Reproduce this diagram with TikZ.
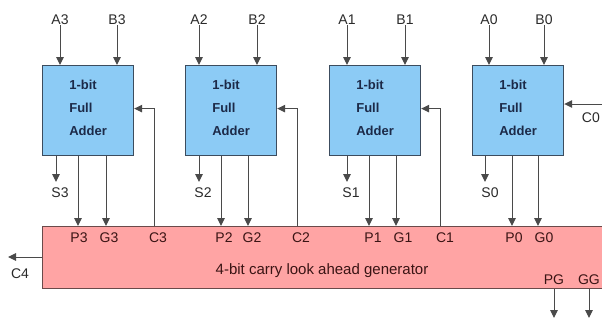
\documentclass[tikz,border=0pt]{standalone}
\usepackage{fontspec}
\setmainfont{Liberation Sans}
\usetikzlibrary{arrows.meta}
\definecolor{fablue}{HTML}{8CCBF5}
\definecolor{faedge}{HTML}{3C4C5E}
\definecolor{clapink}{HTML}{FFA4A4}
\definecolor{claedge}{HTML}{6A4A4A}
\definecolor{wire}{HTML}{2A2A2A}
\definecolor{fatext}{HTML}{1C2A48}
\definecolor{clatext}{HTML}{3A1414}
\tikzset{
  fabox/.style={draw=faedge, line width=1.2pt, fill=fablue, anchor=north west,
    minimum width=91pt, minimum height=90pt, inner sep=0pt},
  fatxt/.style={align=left, inner sep=0pt, text=fatext,
    font=\bfseries\fontsize{13}{23}\selectfont},
  clabox/.style={draw=claedge, line width=1.2pt, fill=clapink, anchor=north west,
    minimum width=570pt, minimum height=62pt, inner sep=0pt},
  lbl/.style={text=wire, font=\fontsize{14}{14}\selectfont, inner sep=0pt},
  plbl/.style={text=clatext, font=\fontsize{14}{14}\selectfont, inner sep=0pt},
  arr/.style={draw=wire!85, line width=1pt, -{Triangle[length=8pt,width=7.5pt]}},
}
\begin{document}
\begin{tikzpicture}[x=1pt,y=-1pt]
\useasboundingbox (0,0) rectangle (602,325);
\clip (0,0) rectangle (602,325);
\fill[white] (0,0) rectangle (602,325);
% carry look-ahead generator
\node[clabox] (cla) at (42,226) {};
\node[plbl, font=\fontsize{15}{15}\selectfont] (title) at (322,271) {4-bit carry look ahead generator};
% full adders
\node[fabox] (fa3) at (42,65) {};
\node[fabox] (fa2) at (185,65) {};
\node[fabox] (fa1) at (329,65) {};
\node[fabox] (fa0) at (472,65) {};
\node[fatxt] (fa3t) at ([yshift=3pt]fa3.center) {1-bit\\Full\\Adder};
\node[fatxt] (fa2t) at ([yshift=3pt]fa2.center) {1-bit\\Full\\Adder};
\node[fatxt] (fa1t) at ([yshift=3pt]fa1.center) {1-bit\\Full\\Adder};
\node[fatxt] (fa0t) at ([yshift=3pt]fa0.center) {1-bit\\Full\\Adder};
% inputs
\foreach \n/\ax/\bx/\i in {fa3/60/117/3, fa2/199/257/2, fa1/347/405/1, fa0/489/544/0}{
  \node[lbl] (a\i) at (\ax,20) {A\i};
  \node[lbl] (b\i) at (\bx,20) {B\i};
  \draw[arr] (a\i.south) -- (a\i |- \n.north);
  \draw[arr] (b\i.south) -- (b\i |- \n.north);
}
% sums
\foreach \n/\sx/\i in {fa3/60/3, fa2/203/2, fa1/351/1, fa0/490/0}{
  \node[lbl] (s\i) at (\sx,193) {S\i};
}
\coordinate (s3t) at (56,182);
\coordinate (s2t) at (199,182);
\coordinate (s1t) at (347,182);
\coordinate (s0t) at (485,182);
\draw[arr] (s3t |- fa3.south) -- (s3t);
\draw[arr] (s2t |- fa2.south) -- (s2t);
\draw[arr] (s1t |- fa1.south) -- (s1t);
\draw[arr] (s0t |- fa0.south) -- (s0t);
% P and G labels
\node[plbl] (p3) at (79,238) {P3};
\node[plbl] (g3) at (109,238) {G3};
\node[plbl] (c3) at (158,238) {C3};
\node[plbl] (p2) at (224,238) {P2};
\node[plbl] (g2) at (252,238) {G2};
\node[plbl] (c2) at (301,238) {C2};
\node[plbl] (p1) at (373,238) {P1};
\node[plbl] (g1) at (403,238) {G1};
\node[plbl] (c1) at (445,238) {C1};
\node[plbl] (p0) at (514,238) {P0};
\node[plbl] (g0) at (544,238) {G0};
\coordinate (p3x) at (78,0); \coordinate (g3x) at (106,0); \coordinate (c3x) at (154,0);
\coordinate (p2x) at (221,0); \coordinate (g2x) at (248,0); \coordinate (c2x) at (297,0);
\coordinate (p1x) at (369,0); \coordinate (g1x) at (396,0); \coordinate (c1x) at (440,0);
\coordinate (p0x) at (512,0); \coordinate (g0x) at (538,0);
\draw[arr] (p3x |- fa3.south) -- (p3x |- cla.north);
\draw[arr] (g3x |- fa3.south) -- (g3x |- cla.north);
\draw[arr] (p2x |- fa2.south) -- (p2x |- cla.north);
\draw[arr] (g2x |- fa2.south) -- (g2x |- cla.north);
\draw[arr] (p1x |- fa1.south) -- (p1x |- cla.north);
\draw[arr] (g1x |- fa1.south) -- (g1x |- cla.north);
\draw[arr] (p0x |- fa0.south) -- (p0x |- cla.north);
\draw[arr] (g0x |- fa0.south) -- (g0x |- cla.north);
% carries
\draw[arr] (c3x |- cla.north) |- ([yshift=2pt]fa3.east);
\draw[arr] (c2x |- cla.north) |- ([yshift=2pt]fa2.east);
\draw[arr] (c1x |- cla.north) |- ([yshift=2pt]fa1.east);
\coordinate (c0in) at (610,104);
\draw[arr] (c0in) -- (c0in -| fa0.east);
\node[lbl, anchor=east] (c0) at (600,118) {C0};
% C4 out
\coordinate (c4end) at (8,257);
\draw[arr] (c4end -| cla.west) -- (c4end);
\node[lbl] (c4) at (20,274) {C4};
% PG, GG
\node[plbl] (pg) at (554,280) {PG};
\node[plbl, anchor=east] (gg) at (600,280) {GG};
\coordinate (pgend) at (554,318);
\coordinate (ggend) at (589,318);
\draw[arr] (pgend |- cla.south) -- (pgend);
\draw[arr] (ggend |- cla.south) -- (ggend);
\end{tikzpicture}
\end{document}
